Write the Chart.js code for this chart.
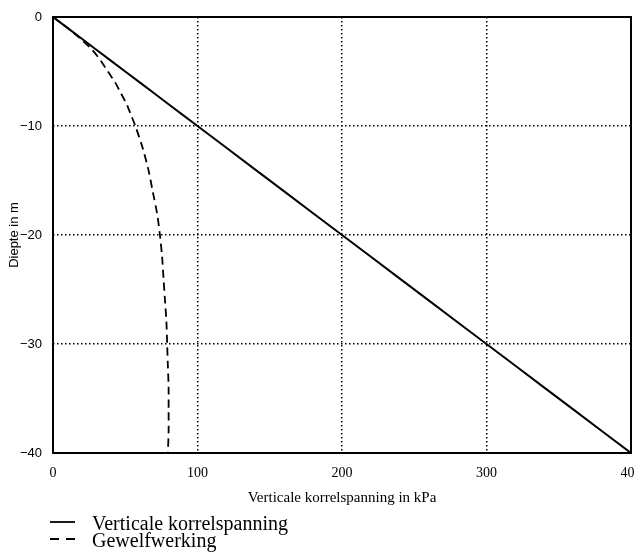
<!DOCTYPE html>
<html>
<head>
<meta charset="utf-8">
<script src="https://cdn.jsdelivr.net/npm/chart.js@4/dist/chart.umd.min.js"></script>
<style>
html,body{margin:0;padding:0;background:#fff;}
canvas{display:block;}
</style>
</head>
<body>
<canvas id="c" width="634" height="552"></canvas>
<script>
// Depth (m) and stresses (kPa)
const depths = [0, 1, 2, 3, 4, 5, 6, 7, 8, 9, 10, 12, 14, 16, 18, 20, 22, 24, 26, 28, 30, 32, 34, 36, 38, 40];
const korrelspanning = [0, 10, 20, 30, 40, 50, 60, 70, 80, 90, 100, 120, 140, 160, 180, 200, 220, 240, 260, 280, 300, 320, 340, 360, 380, 400];
const gewelfwerking = [0, 10, 19, 27, 33, 38, 43, 47, 51, 54, 57, 62, 66, 69, 72, 74, 75.5, 76.5, 77.5, 78.5, 79, 79.5, 80, 80, 80, 79.5];
const seriesLabels = ['Verticale korrelspanning', 'Gewelfwerking'];
const xTicks = [0, 100, 200, 300, 400];
const yTicks = [0, -10, -20, -30, -40];
const xTitle = 'Verticale korrelspanning in kPa';
const yTitle = 'Diepte in m';

const toPts = (vals) => vals.map((v, i) => ({x: v, y: -depths[i]}));

const frameAndLegend = {
  id: 'frameAndLegend',
  afterDraw(chart) {
    const {ctx, chartArea: a} = chart;
    ctx.save();
    ctx.strokeStyle = '#000';
    ctx.lineWidth = 2;
    ctx.setLineDash([]);
    ctx.strokeRect(a.left, a.top, a.right - a.left, a.bottom - a.top);
    // legend
    const items = chart.data.datasets;
    const baseY = 525, step = 17;
    ctx.font = '20px "Liberation Serif", "Times New Roman", serif';
    ctx.fillStyle = '#000';
    ctx.textBaseline = 'middle';
    ctx.textAlign = 'left';
    items.forEach((ds, i) => {
      const y = baseY + i * step;
      ctx.beginPath();
      ctx.lineWidth = 1.8;
      ctx.setLineDash(ds.borderDash && ds.borderDash.length ? [9, 7] : []);
      ctx.moveTo(50, y - 3);
      ctx.lineTo(75, y - 3);
      ctx.stroke();
      ctx.fillText(ds.label, 92, y);
    });
    ctx.restore();
  }
};

const dotted = (ctx) => {
  const v = ctx.tick ? ctx.tick.value : null;
  return (v === 0 || v === 400 || v === -40) ? 'rgba(0,0,0,0)' : '#000';
};

new Chart(document.getElementById('c'), {
  type: 'scatter',
  data: {
    datasets: [
      {
        label: seriesLabels[0],
        data: toPts(korrelspanning),
        showLine: true,
        borderColor: '#000',
        borderWidth: 2,
        pointRadius: 0,
        fill: false
      },
      {
        label: seriesLabels[1],
        data: toPts(gewelfwerking),
        showLine: true,
        borderColor: '#000',
        borderWidth: 1.8,
        borderDash: [8, 5],
        pointRadius: 0,
        tension: 0.3,
        fill: false
      }
    ]
  },
  options: {
    responsive: false,
    animation: false,
    layout: {padding: {left: 0, right: 3, top: 17, bottom: 45}},
    plugins: {legend: {display: false}, tooltip: {enabled: false}},
    scales: {
      x: {
        type: 'linear',
        min: 0, max: 400,
        afterBuildTicks: (s) => { s.ticks = xTicks.map(v => ({value: v})); },
        afterFit: (s) => { s.height = 54; s.paddingLeft = 0; s.paddingRight = 0; },
        grid: {color: dotted, lineWidth: 1.5, drawTicks: false},
        border: {display: false, dash: [1.5, 2.5]},
        ticks: {
          color: '#000',
          padding: 12,
          maxRotation: 0,
          font: {family: '"Liberation Serif", "Times New Roman", serif', size: 14},
          callback: (v) => String(v)
        },
        title: {
          display: true,
          text: xTitle,
          color: '#000',
          padding: 0,
          font: {family: '"Liberation Serif", "Times New Roman", serif', size: 15}
        }
      },
      y: {
        type: 'linear',
        min: -40, max: 0,
        afterBuildTicks: (s) => { s.ticks = yTicks.map(v => ({value: v})); },
        afterFit: (s) => { s.width = 53; s.paddingTop = 0; s.paddingBottom = 0; },
        grid: {color: dotted, lineWidth: 1.5, drawTicks: false},
        border: {display: false, dash: [1.5, 2.5]},
        ticks: {
          color: '#000',
          padding: 11,
          font: {family: '"Liberation Sans", Arial, sans-serif', size: 13},
          callback: (v) => (v < 0 ? '\u2212' + Math.abs(v) : String(v))
        },
        title: {
          display: true,
          text: yTitle,
          color: '#000',
          padding: {top: 7, bottom: 0},
          font: {family: '"Liberation Sans", Arial, sans-serif', size: 13}
        }
      }
    }
  },
  plugins: [frameAndLegend]
});
</script>
</body>
</html>
